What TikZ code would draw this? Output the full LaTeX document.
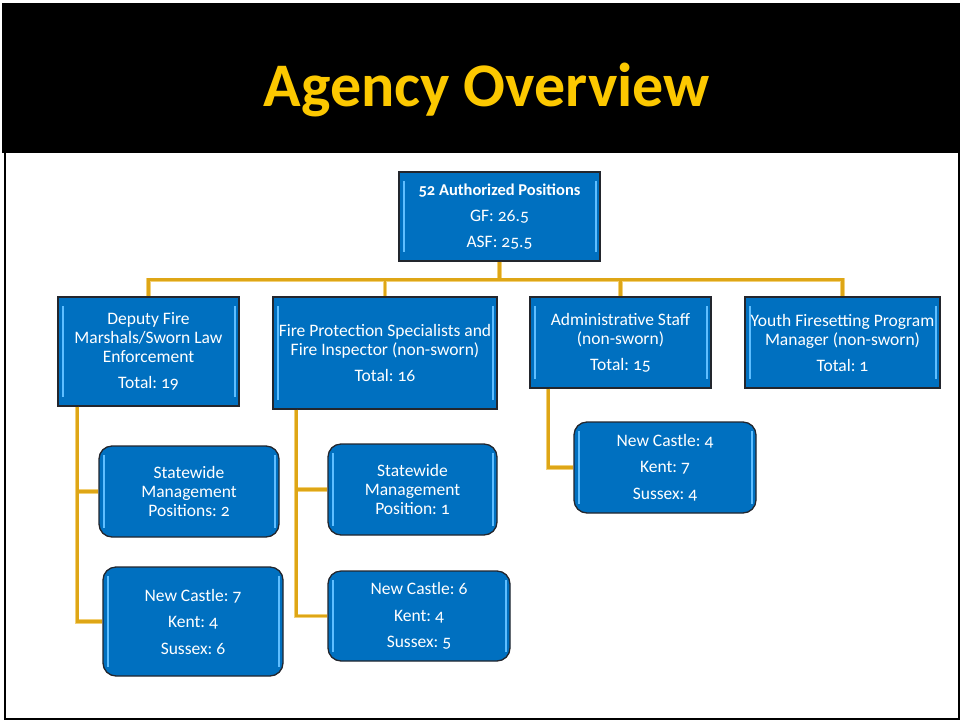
\documentclass[tikz,border=0pt]{standalone}
\usepackage{fontspec}
\setmainfont{Carlito}[Numbers=OldStyle]
\frenchspacing
\definecolor{boxblue}{RGB}{0,112,192}
\definecolor{boxhi}{RGB}{95,190,255}
\definecolor{boxedge}{RGB}{35,38,45}
\definecolor{gold}{RGB}{222,166,22}
\definecolor{goldlight}{RGB}{242,208,120}
\definecolor{titlegold}{RGB}{252,200,0}
\tikzset{
  box/.style={draw=boxedge, line width=1.3pt, fill=boxblue, text=white, align=center,
    inner sep=0pt, font=\fontsize{17.5}{19}\selectfont,
    path picture={
      \draw[boxhi, line width=2pt, sharp corners]
        ([xshift=4.5pt,yshift=-9pt]path picture bounding box.north west) --
        ([xshift=4.5pt,yshift=9pt]path picture bounding box.south west);
      \draw[boxhi, line width=2pt, sharp corners]
        ([xshift=-4.5pt,yshift=-9pt]path picture bounding box.north east) --
        ([xshift=-4.5pt,yshift=9pt]path picture bounding box.south east);
    }},
  rbox/.style={box, rounded corners=13pt},
  conn/.style={draw=gold, line width=2.6pt, preaction={draw=goldlight, line width=4.2pt}}
}
\begin{document}
\begin{tikzpicture}[x=1pt,y=-1pt]
\useasboundingbox (0,0) rectangle (961,721);
\fill[white] (0,0) rectangle (961,721);
\fill[black] (2,3) rectangle (960,153);
\draw[black, line width=2pt] (5,153) -- (5,719) -- (959,719) -- (959,153);
\node[font=\fontsize{62}{62}\bfseries\selectfont, text=titlegold, anchor=base, inner sep=0pt] (title) at (487,106) {Agency Overview};

\node[box, minimum width=201pt, minimum height=89pt] (top) at (499.5,216.5)
  {{\fontsize{16.5}{19}\selectfont\bfseries 52 Authorized Positions}\\[7pt] GF: 26.5\\[7pt] ASF: 25.5};
\node[box, minimum width=181pt, minimum height=109pt] (dep) at (148.5,351.5)
  {Deputy Fire\\ Marshals/Sworn Law\\ Enforcement\\[7pt] Total: 19};
\node[box, minimum width=224pt, minimum height=112pt] (fps) at (385,353)
  {Fire Protection Specialists and\\ Fire Inspector (non-sworn)\\[7pt] Total: 16};
\node[box, minimum width=181pt, minimum height=91pt] (adm) at (620.5,342.5)
  {Administrative Staff\\ (non-sworn)\\[7pt] Total: 15};
\node[box, minimum width=195pt, minimum height=91pt] (yth) at (842.5,342.5)
  {Youth Firesetting Program\\ Manager (non-sworn)\\[7pt] Total: 1};

\node[rbox, minimum width=180pt, minimum height=91pt] (dsm) at (189,491.5)
  {Statewide\\ Management\\ Positions: 2};
\node[rbox, minimum width=180pt, minimum height=109pt] (dnc) at (193,621.5)
  {New Castle: 7\\[7.5pt] Kent: 4\\[7.5pt] Sussex: 6};
\node[rbox, minimum width=169pt, minimum height=91pt] (fsm) at (412.5,489.5)
  {Statewide\\ Management\\ Position: 1};
\node[rbox, minimum width=182pt, minimum height=90pt] (fnc) at (419,616)
  {New Castle: 6\\[7.5pt] Kent: 4\\[7.5pt] Sussex: 5};
\node[rbox, minimum width=182pt, minimum height=91pt] (anc) at (665,467.5)
  {New Castle: 4\\[7.5pt] Kent: 7\\[7.5pt] Sussex: 4};

\draw[conn] (top.south) -- ++(0,18) coordinate (hub)
  (hub) -| (dep.north) (hub) -| (fps.north) (hub) -| (adm.north) (hub) -| (yth.north);
\draw[conn] ([xshift=20pt]dep.south west) coordinate (dl) |- (dnc.west) (dl |- dsm.west) -- (dsm.west);
\draw[conn] ([xshift=24pt]fps.south west) coordinate (fl) |- (fnc.west) (fl |- fsm.west) -- (fsm.west);
\draw[conn] ([xshift=19pt]adm.south west) |- (anc.west);
\end{tikzpicture}
\end{document}
